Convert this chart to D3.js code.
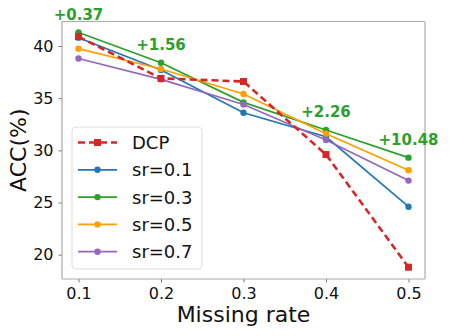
<!DOCTYPE html>
<html>
<head>
<meta charset="utf-8">
<script src="https://cdn.jsdelivr.net/npm/d3@7"></script>
<style>
  body { margin: 0; background: #fff; }
  text { font-family: "DejaVu Sans", sans-serif; }
</style>
</head>
<body>
<div id="chart"></div>
<script>
// data
var missingRates = [0.1, 0.2, 0.3, 0.4, 0.5];
var dcp  = [40.9, 36.9, 36.6, 29.6, 18.8];
var sr01 = [40.8, 37.7, 33.6, 31.3, 24.6];
var sr03 = [41.3, 38.4, 34.6, 31.95, 29.3];
var sr05 = [39.75, 37.8, 35.4, 31.6, 28.1];
var sr07 = [38.8, 36.8, 34.4, 31.0, 27.1];
var seriesNames = ["DCP", "sr=0.1", "sr=0.3", "sr=0.5", "sr=0.7"];
var colors = ["#d62728", "#1f77b4", "#2ca02c", "#ff9f00", "#9467bd"];
var gainLabels = ["+0.37", "+1.56", "+2.26", "+10.48"];
var yTicks = [20, 25, 30, 35, 40];

var W = 449, H = 336;
var margin = { top: 21.5, right: 24, bottom: 57, left: 62 };

var svg = d3.select("#chart").append("svg")
  .attr("width", W)
  .attr("height", H);

var x = d3.scaleLinear().domain([0.08, 0.52]).range([margin.left, W - margin.right]);
var y = d3.scaleLinear().domain([17.67, 42.35]).range([H - margin.bottom, margin.top]);

//axes
var xAxis = svg.append("g")
  .attr("transform", "translate(0," + (H - margin.bottom) + ")")
  .call(d3.axisBottom(x).tickValues(missingRates).tickFormat(d3.format(".1f")).tickSize(3.5).tickPadding(5));
var yAxis = svg.append("g")
  .attr("transform", "translate(" + margin.left + ",0)")
  .call(d3.axisLeft(y).tickValues(yTicks).tickSize(3.5).tickPadding(5));
[xAxis, yAxis].forEach(function (a) {
  a.select(".domain").remove();
  a.selectAll("line").attr("stroke", "#555").attr("stroke-width", 0.8);
  a.selectAll("text").style("font-size", "16px").attr("fill", "#111");
});

//frame
svg.append("line").attr("x1", margin.left).attr("x2", margin.left)
  .attr("y1", margin.top).attr("y2", H - margin.bottom).attr("stroke", "#aaa").attr("stroke-width", 1.2);
svg.append("line").attr("x1", margin.left).attr("x2", W - margin.right)
  .attr("y1", H - margin.bottom).attr("y2", H - margin.bottom).attr("stroke", "#aaa").attr("stroke-width", 1.2);
svg.append("line").attr("x1", margin.left).attr("x2", W - margin.right)
  .attr("y1", margin.top).attr("y2", margin.top).attr("stroke", "#aaa").attr("stroke-width", 1.2);
svg.append("line").attr("x1", W - margin.right).attr("x2", W - margin.right)
  .attr("y1", margin.top).attr("y2", H - margin.bottom).attr("stroke", "#ccc").attr("stroke-width", 2);

//lines
var allSeries = [dcp, sr01, sr03, sr05, sr07];
var line = d3.line()
  .x(function (d, i) { return x(missingRates[i]); })
  .y(function (d) { return y(d); });

// draw sr series first, DCP on top
[1, 2, 3, 4, 0].forEach(function (k) {
  var vals = allSeries[k];
  var g = svg.append("g");
  g.append("path")
    .attr("d", line(vals))
    .attr("fill", "none")
    .attr("stroke", colors[k])
    .attr("stroke-width", k === 0 ? 2.6 : 1.7)
    .attr("stroke-dasharray", k === 0 ? "7,4" : null);
  if (k === 0) {
    g.selectAll("rect").data(vals).enter().append("rect")
      .attr("x", function (d, i) { return x(missingRates[i]) - 3.5; })
      .attr("y", function (d) { return y(d) - 3.5; })
      .attr("width", 7).attr("height", 7)
      .attr("fill", colors[k]);
  } else {
    g.selectAll("circle").data(vals).enter().append("circle")
      .attr("cx", function (d, i) { return x(missingRates[i]); })
      .attr("cy", function (d) { return y(d); })
      .attr("r", 3.2)
      .attr("fill", colors[k]);
  }
});

//gain annotations (placed relative to the sr=0.3 points)
var gainPos = [
  { i: 0, dy: -12.5 },
  { i: 1, dy: -12.5 },
  { i: 3, dy: -13 },
  { i: 4, dy: -12.5 }
];
gainPos.forEach(function (p, j) {
  svg.append("text")
    .attr("x", x(missingRates[p.i]))
    .attr("y", y(sr03[p.i]) + p.dy)
    .attr("text-anchor", "middle")
    .style("font-size", "15px")
    .style("font-weight", "bold")
    .attr("fill", "#2ca02c")
    .text(gainLabels[j]);
});

//legend
var lg = svg.append("g").attr("transform", "translate(72,127)");
lg.append("rect")
  .attr("width", 130).attr("height", 142)
  .attr("rx", 4)
  .attr("fill", "#fff").attr("fill-opacity", 0.85)
  .attr("stroke", "#ddd");
seriesNames.forEach(function (name, k) {
  var yy = 15.5 + k * 27.3;
  lg.append("line")
    .attr("x1", 6).attr("x2", 45).attr("y1", yy).attr("y2", yy)
    .attr("stroke", colors[k])
    .attr("stroke-width", k === 0 ? 2.6 : 1.7)
    .attr("stroke-dasharray", k === 0 ? "7,4" : null);
  if (k === 0) {
    lg.append("rect").attr("x", 22).attr("y", yy - 3.5).attr("width", 7).attr("height", 7).attr("fill", colors[k]);
  } else {
    lg.append("circle").attr("cx", 25.5).attr("cy", yy).attr("r", 3.2).attr("fill", colors[k]);
  }
  lg.append("text")
    .attr("x", 60).attr("y", yy + 6.5)
    .style("font-size", "18px")
    .attr("fill", "#111")
    .text(name);
});

//axis labels
svg.append("text")
  .attr("x", (margin.left + W - margin.right) / 2)
  .attr("y", 322)
  .attr("text-anchor", "middle")
  .style("font-size", "22px")
  .attr("fill", "#111")
  .text("Missing rate");
svg.append("text")
  .attr("transform", "translate(26," + ((margin.top + H - margin.bottom) / 2) + ") rotate(-90)")
  .attr("text-anchor", "middle")
  .style("font-size", "22px")
  .attr("fill", "#111")
  .text("ACC(%)");
</script>
</body>
</html>
